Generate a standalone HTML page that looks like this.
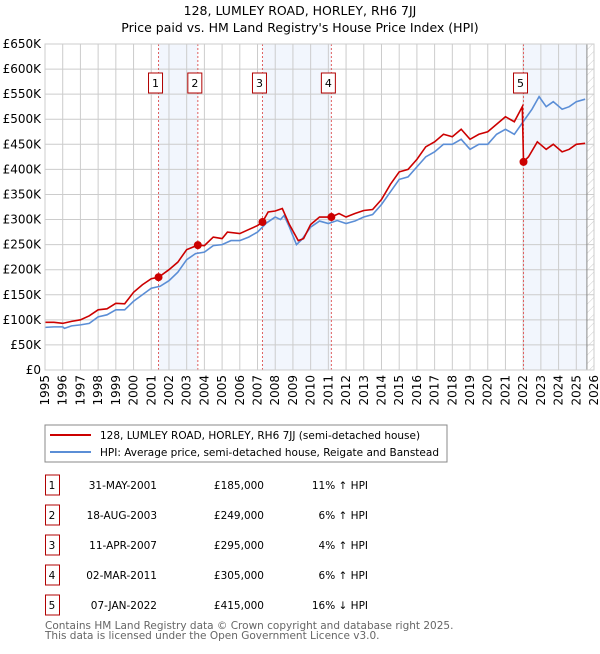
<!DOCTYPE html>
<html><head><meta charset="utf-8"><style>
body{margin:0;background:#fff;font-family:"DejaVu Sans","Liberation Sans",sans-serif;}
svg text{font-family:"DejaVu Sans","Liberation Sans",sans-serif;}
</style></head><body>
<svg id="chart" width="600" height="650" viewBox="0 0 600 650">
<defs><pattern id="hatch" width="6" height="6" patternUnits="userSpaceOnUse" patternTransform="rotate(45)"><line x1="0" y1="0" x2="0" y2="6" stroke="#ccc" stroke-width="1"/></pattern></defs>
<text x="300" y="15" text-anchor="middle" font-size="12.5">128, LUMLEY ROAD, HORLEY, RH6 7JJ</text>
<text x="300" y="32" text-anchor="middle" font-size="12.5">Price paid vs. HM Land Registry's House Price Index (HPI)</text>
<g id="plot"></g>
<rect x="45" y="425" width="402" height="37" fill="#fff" stroke="#888"/>
<line x1="50" y1="435" x2="91" y2="435" stroke="#cc0000" stroke-width="2"/>
<text x="100" y="439" font-size="10.5">128, LUMLEY ROAD, HORLEY, RH6 7JJ (semi-detached house)</text>
<line x1="50" y1="452" x2="91" y2="452" stroke="#5b8ed6" stroke-width="2"/>
<text x="100" y="456" font-size="10.5">HPI: Average price, semi-detached house, Reigate and Banstead</text>
<g id="table"></g>
<text x="45" y="629" font-size="10.5" fill="#666">Contains HM Land Registry data © Crown copyright and database right 2025.</text>
<text x="45" y="639" font-size="10.5" fill="#666">This data is licensed under the Open Government Licence v3.0.</text>
</svg>
<script>
const hpiYears=[1995,1995.5,1996,1996.1,1996.5,1997,1997.5,1998,1998.5,1999,1999.5,2000,2000.5,2001,2001.5,2002,2002.5,2003,2003.5,2004,2004.5,2005,2005.5,2006,2006.5,2007,2007.5,2008,2008.3,2008.5,2008.8,2009.2,2009.5,2010,2010.5,2011,2011.5,2012,2012.5,2013,2013.5,2014,2014.5,2015,2015.5,2016,2016.5,2017,2017.5,2018,2018.5,2019,2019.5,2020,2020.5,2021,2021.5,2022,2022.5,2022.9,2023.3,2023.7,2024.2,2024.6,2025,2025.5];
const hpiValues=[85,86,86,83,88,90,93,106,110,120,120,137,150,163,167,178,195,220,232,235,248,250,258,258,265,275,293,305,300,308,285,250,260,285,297,292,298,292,297,305,310,330,355,380,385,405,425,435,450,450,460,440,450,450,470,480,470,495,520,545,525,535,520,525,535,540];
const priceYears=[1995,1995.5,1996,1996.5,1997,1997.5,1998,1998.5,1999,1999.5,2000,2000.5,2001,2001.41,2002,2002.5,2003,2003.63,2004,2004.5,2005,2005.3,2006,2006.5,2007,2007.28,2007.6,2008,2008.4,2008.8,2009.3,2009.6,2010,2010.5,2011.17,2011.6,2012,2012.5,2013,2013.5,2014,2014.5,2015,2015.5,2016,2016.5,2017,2017.5,2018,2018.5,2019,2019.5,2020,2020.5,2021,2021.5,2021.95,2022.02,2022.3,2022.8,2023.3,2023.7,2024.2,2024.6,2025,2025.5];
const priceValues=[95,95,93,97,100,108,120,122,133,132,155,170,182,185,200,215,240,249,248,265,262,275,272,280,288,295,315,317,322,290,258,262,290,305,305,312,305,312,318,320,340,370,395,400,420,445,455,470,465,480,460,470,475,490,505,495,525,415,425,455,440,450,435,440,450,452];
const saleLabels=["1","2","3","4","5"];
const saleYears=[2001.41,2003.63,2007.28,2011.17,2022.02];
const salePrices=[185,249,295,305,415];
const saleDates=["31-MAY-2001","18-AUG-2003","11-APR-2007","02-MAR-2011","07-JAN-2022"];
const salePriceText=["£185,000","£249,000","£295,000","£305,000","£415,000"];
const saleHpiText=["11% ↑ HPI","6% ↑ HPI","4% ↑ HPI","6% ↑ HPI","16% ↓ HPI"];
const yTicks=[0,50,100,150,200,250,300,350,400,450,500,550,600,650];
const yTickLabels=["£0","£50K","£100K","£150K","£200K","£250K","£300K","£350K","£400K","£450K","£500K","£550K","£600K","£650K"];
const xTicks=[1995,1996,1997,1998,1999,2000,2001,2002,2003,2004,2005,2006,2007,2008,2009,2010,2011,2012,2013,2014,2015,2016,2017,2018,2019,2020,2021,2022,2023,2024,2025,2026];
const dataEnd=2025.6;

const NS="http://www.w3.org/2000/svg";
const L=45,R=594,T=44,B=370;
const xs=y=>L+(y-1995)/(2026-1995)*(R-L);
const ys=v=>B-v/650*(B-T);
const plot=document.getElementById('plot');
function mk(tag,attrs,parent){const e=document.createElementNS(NS,tag);for(const k in attrs)e.setAttribute(k,attrs[k]);(parent||plot).appendChild(e);return e;}

const bands=[[saleYears[0],saleYears[1]],[saleYears[2],saleYears[3]],[saleYears[4],dataEnd]];
bands.forEach((b,i)=>{const r=mk('rect',{x:xs(b[0]),y:T,width:xs(b[1])-xs(b[0]),height:B-T,fill:'#f2f6fd'});

});
const h=mk('rect',{x:xs(dataEnd),y:T,width:R-xs(dataEnd),height:B-T,fill:'url(#hatch)'});


xTicks.forEach(t=>{const g=mk('line',{x1:xs(t),x2:xs(t),y1:T,y2:B,stroke:'#ccc'});


const tx=mk('text',{x:0,y:0,'font-size':12,'text-anchor':'end',transform:`translate(${xs(t)+4},${B+5}) rotate(-90)`});tx.textContent=t;

});
yTicks.forEach((t,i)=>{const g=mk('line',{x1:L,x2:R,y1:ys(t),y2:ys(t),stroke:'#ccc'});


const tx=mk('text',{x:L-4,y:ys(t)+4,'font-size':12,'text-anchor':'end'});tx.textContent=yTickLabels[i];

});
const ed=mk('line',{x1:xs(dataEnd),x2:xs(dataEnd),y1:T,y2:B,stroke:'#888'});


saleYears.forEach((s,i)=>{const l=mk('line',{x1:xs(s),x2:xs(s),y1:T,y2:B,stroke:'#e06060','stroke-dasharray':'2,2'});


const bx=mk('rect',{x:xs(s)-10,y:73,width:14,height:20,fill:'#fff',stroke:'#b00000'});


const t=mk('text',{x:xs(s)-3,y:87,'font-size':11,'text-anchor':'middle'});t.textContent=saleLabels[i];

});
const hp=mk('polyline',{points:hpiYears.map((y,i)=>xs(y)+','+ys(hpiValues[i])).join(' '),fill:'none',stroke:'#5b8ed6','stroke-width':1.6});


const pp=mk('polyline',{points:priceYears.map((y,i)=>xs(y)+','+ys(priceValues[i])).join(' '),fill:'none',stroke:'#cc0000','stroke-width':1.6});


saleYears.forEach((s,i)=>{const c=mk('circle',{cx:xs(s),cy:ys(salePrices[i]),r:4,fill:'#cc0000'});

});
mk('rect',{x:L,y:T,width:R-L,height:B-T,fill:'none',stroke:'#ccc'});
const tb=document.getElementById('table');
saleLabels.forEach((lab,i)=>{const y0=475+i*30;
const bx=mk('rect',{x:45.5,y:y0,width:14,height:20,fill:'#fff',stroke:'#b00000'},tb);


const cells=[[52,lab,'middle'],[157,saleDates[i],'end'],[264,salePriceText[i],'end'],[368,saleHpiText[i],'end']];
cells.forEach(c=>{const t=mk('text',{x:c[0],y:y0+14,'font-size':10.5,'text-anchor':c[2]},tb);t.textContent=c[1];

});});
</script>
</body></html>
